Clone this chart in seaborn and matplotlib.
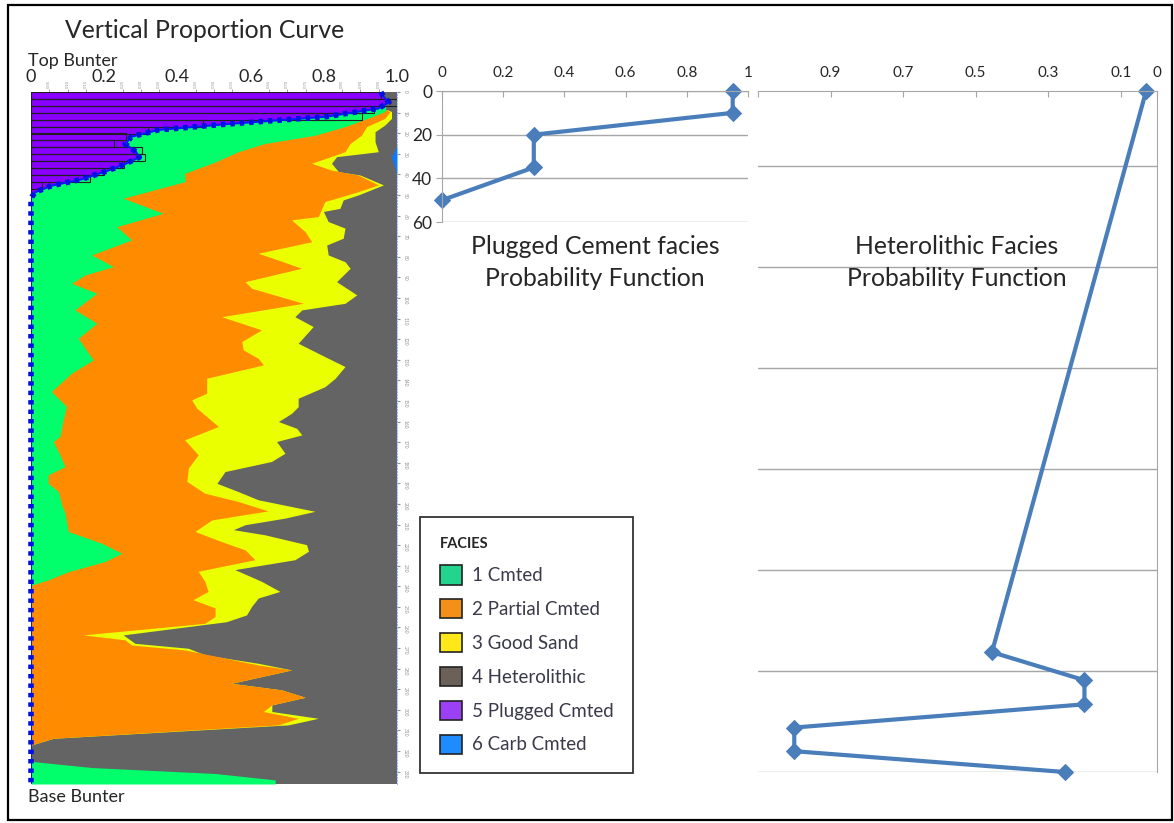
import matplotlib
matplotlib.use("Agg")
import matplotlib.pyplot as plt
import seaborn as sns
import numpy as np
from matplotlib.patches import Patch, Rectangle

# ---- left panel: cumulative facies edges (probability) at depth samples ----
purple_depth = [0, 2.3, 5, 8, 12, 15.5, 18.4, 21.7, 25.2, 29, 31.7, 35.4, 38.7, 42.4, 45.5, 48.7, 51.6, 336]
purple_edge = [0.956, 0.963, 0.978, 0.949, 0.806, 0.541, 0.348, 0.275, 0.257, 0.287, 0.296, 0.252,
               0.202, 0.138, 0.056, 0.011, 0, 0]

green_depth = [7, 9.5, 12.8, 16.8, 21, 25, 29, 34, 39.5, 43.5, 51.6, 58.9, 65.4, 71.8, 79.1, 84.8,
               88.8, 92.9, 97.7, 105.8, 112.3, 119.6, 130.1, 136.5, 145.4, 152.7, 159.2, 167.3, 169.7,
               176.2, 181.9, 185.9, 190, 194, 200.5, 204.5, 213.4, 219.1, 224, 228, 232.9, 236.9,
               239.4, 241, 325, 328, 330.9, 334, 336]
green_edge = [0.97, 0.967, 0.92, 0.858, 0.776, 0.639, 0.566, 0.503, 0.42, 0.421, 0.252, 0.361, 0.234,
              0.275, 0.166, 0.225, 0.148, 0.111, 0.18, 0.12, 0.18, 0.129, 0.17, 0.111, 0.056, 0.097,
              0.088, 0.079, 0.061, 0.079, 0.093, 0.047, 0.047, 0.075, 0.084, 0.093, 0.102, 0.193,
              0.248, 0.202, 0.102, 0.047, 0.002, 0, 0, 0.166, 0.503, 0.667, 0.667]

orange_depth = [8.7, 9.5, 12.8, 16.8, 21, 25, 29, 34.6, 37.9, 40.3, 45.1, 48.4, 53.2, 60.5, 62.1, 67.8,
                72.7, 78.3, 81.6, 85.6, 92.1, 95.3, 102.6, 109.1, 115.5, 121.2, 125.2, 129.3, 132.5,
                139, 146.3, 149.5, 153.5, 162.4, 168.9, 176.2, 182.6, 189.1, 194.8, 198.8, 203.4,
                207.8, 213.4, 218.3, 222.3, 227.1, 232.7, 237.6, 242.5, 246.5, 250.5, 254.7, 258,
                263.6, 266, 268.5, 270.9, 274.2, 278.2, 280.6, 287.1, 290.3, 293.9, 297.6, 300.8,
                304.1, 307.3, 313.8, 317, 319]
orange_edge = [0.97, 0.981, 0.967, 0.917, 0.903, 0.872, 0.858, 0.767, 0.821, 0.894, 0.949, 0.894,
               0.803, 0.785, 0.712, 0.749, 0.767, 0.621, 0.676, 0.739, 0.585, 0.603, 0.744, 0.521,
               0.63, 0.576, 0.58, 0.621, 0.635, 0.48, 0.48, 0.439, 0.453, 0.512, 0.42, 0.457, 0.43,
               0.426, 0.475, 0.566, 0.648, 0.494, 0.448, 0.521, 0.585, 0.612, 0.457, 0.475, 0.484,
               0.443, 0.503, 0.503, 0.475, 0.143, 0.257, 0.275, 0.421, 0.512, 0.621, 0.712, 0.548,
               0.685, 0.749, 0.658, 0.635, 0.73, 0.676, 0.061, 0.002, 0]

yellow_depth = [8.7, 9.5, 12.8, 16, 19.3, 24.2, 29, 31.4, 34.6, 38.7, 40.3, 45.1, 50, 52.4, 56.5, 58,
                62.9, 66.1, 71, 74.3, 79.1, 82.4, 85.6, 92.1, 98.5, 102.6, 105.8, 109.1, 113.9, 122,
                128.5, 133.3, 139, 143.1, 148.7, 152.8, 156, 160, 163.3, 166.5, 169.7, 175.4, 179.4,
                184.3, 190, 194, 198, 203.6, 206.9, 210.1, 212.5, 215, 219.8, 223, 227.1, 231.9,
                237.6, 242.5, 245.7, 249.7, 253.9, 257.2, 263.6, 267.7, 270.1, 273.3, 277.4, 280.6,
                287.1, 290.3, 293.9, 297.6, 300.8, 304.1, 307.3, 313.8, 317, 319]
yellow_edge = [0.975, 0.985, 0.985, 0.967, 0.94, 0.94, 0.949, 0.835, 0.821, 0.84, 0.899, 0.963, 0.894,
               0.853, 0.844, 0.799, 0.812, 0.858, 0.853, 0.808, 0.812, 0.858, 0.872, 0.835, 0.89,
               0.858, 0.74, 0.721, 0.771, 0.73, 0.803, 0.858, 0.831, 0.803, 0.73, 0.73, 0.712, 0.676,
               0.726, 0.74, 0.671, 0.694, 0.657, 0.53, 0.508, 0.566, 0.621, 0.776, 0.694, 0.585,
               0.553, 0.639, 0.753, 0.758, 0.721, 0.557, 0.63, 0.68, 0.621, 0.603, 0.589, 0.534,
               0.252, 0.284, 0.43, 0.475, 0.621, 0.712, 0.548, 0.685, 0.749, 0.658, 0.658, 0.785,
               0.703, 0.061, 0.002, 0]

carb_depth = [26, 31.4, 36, 40]
carb_edge = [1.0, 0.985, 0.993, 1.0]

# histogram of plugged cement (bin centres / values)
hist_depth = [1.7, 5.0, 8.4, 11.7, 15.1, 18.5, 21.8, 25.2, 28.5, 31.9, 35.2, 38.6, 41.9, 45.3, 48.6]
hist_value = [0.955, 1.0, 0.938, 0.904, 0.47, 0.32, 0.26, 0.228, 0.302, 0.311, 0.255, 0.2, 0.161, 0.031, 0.0]

# ---- Excel-style probability functions ----
plug_depth = [0, 10, 20, 35, 50]
plug_prob = [0.95, 0.95, 0.3, 0.3, 0]

het_depth = [13, 290.7, 304.6, 316.5, 328, 339.7, 350]
het_prob = [0.03, 0.455, 0.2, 0.2, 1.0, 1.0, 0.255]

facies_labels = ["1 Cmted", "2 Partial Cmted", "3 Good Sand", "4 Heterolithic", "5 Plugged Cmted", "6 Carb Cmted"]
legend_colors = ["#22d48e", "#f3901a", "#ffe81a", "#6b6159", "#9b40f5", "#1e8cff"]

c_purple, c_green, c_orange, c_yellow, c_gray, c_blue = "#8a00ff", "#00ff6a", "#ff8c00", "#eaff00", "#646464", "#0a78ff"
line_blue = "#4a7ebb"
grid_gray = "#a6a6a6"

sns.set_style("white")
plt.rcParams["font.family"] = ["Lato", "DejaVu Sans"]

fig = plt.figure(figsize=(11.74, 8.23), dpi=100)

# ---------------- left: vertical proportion curve ----------------
ax = fig.add_axes([31 / 1174, 1 - 784 / 823, 366 / 1174, 692 / 823])
ax.set_facecolor(c_gray)
ax.fill_betweenx(yellow_depth, 0, yellow_edge, color=c_yellow, lw=0)
ax.fill_betweenx(orange_depth, 0, orange_edge, color=c_orange, lw=0)
ax.fill_betweenx(green_depth, 0, green_edge, color=c_green, lw=0)
ax.fill_betweenx(carb_depth, carb_edge, 1, color=c_blue, lw=0)
ax.fill_betweenx(purple_depth, 0, purple_edge, color=c_purple, lw=0)
ax.barh(hist_depth, hist_value, height=3.35, fill=False, edgecolor="#202020", lw=0.8)
sns.lineplot(x=purple_edge, y=purple_depth, orient="y", sort=False, ax=ax, color="#0a1aff", lw=1.5)
ax.plot(purple_edge, purple_depth, color="#0010e0", lw=4, ls=(0, (0.8, 0.9)), clip_on=False,
        solid_capstyle="butt")
ax.set_xlim(0, 1)
ax.set_ylim(336, 0)
for side in ["left", "top", "bottom"]:
    ax.spines[side].set_visible(False)
ax.spines["right"].set_color("#9ab8ff")
ax.spines["right"].set_linestyle(":")
ax.xaxis.tick_top()
ax.set_xticks([0, 0.2, 0.4, 0.6, 0.8, 1.0])
ax.set_xticklabels(["0", "0.2", "0.4", "0.6", "0.8", "1.0"])
ax.set_xticks(np.arange(0.05, 1.0, 0.05), minor=True)
ax.xaxis.set_minor_formatter(matplotlib.ticker.FuncFormatter(lambda v, p: f"{v:.2f}"))
ax.tick_params(axis="x", which="major", labelsize=13, length=0, pad=5)
ax.tick_params(axis="x", which="minor", labelsize=3, length=2, pad=1, labelrotation=90,
               colors="#909090")
ax.yaxis.tick_right()
ax.set_yticks(range(0, 331, 10))
ax.tick_params(axis="y", labelsize=3.5, length=2, pad=2, labelrotation=270, colors="#909090")
ax.set_xlabel("")
ax.set_ylabel("")

fig.text(205 / 1174, 1 - 30 / 823, "Vertical Proportion Curve", ha="center", va="center", fontsize=17.8)
fig.text(28 / 1174, 1 - 61 / 823, "Top Bunter", ha="left", va="center", fontsize=13)
fig.text(28 / 1174, 1 - 797 / 823, "Base Bunter", ha="left", va="center", fontsize=13)

# ---------------- middle: plugged cement probability ----------------
ax2 = fig.add_axes([442 / 1174, 1 - 222 / 823, 306 / 1174, 131 / 823])
sns.lineplot(x=plug_prob, y=plug_depth, orient="y", sort=False, ax=ax2, color=line_blue, lw=3,
             marker="D", markersize=8, markeredgecolor=line_blue)
for ln in ax2.lines:
    ln.set_clip_on(False)
ax2.set_xlim(0, 1)
ax2.set_ylim(60, 0)
ax2.xaxis.tick_top()
ax2.set_xticks([0, 0.2, 0.4, 0.6, 0.8, 1.0])
ax2.set_xticklabels(["0", "0.2", "0.4", "0.6", "0.8", "1"])
ax2.set_yticks([0, 20, 40, 60])
ax2.grid(axis="y", color=grid_gray, lw=1)
ax2.grid(axis="x", visible=False)
for side in ["right", "bottom"]:
    ax2.spines[side].set_visible(False)
for side in ["top", "left"]:
    ax2.spines[side].set_color(grid_gray)
ax2.tick_params(axis="x", labelsize=11, direction="in", length=4, color=grid_gray, pad=8)
ax2.tick_params(axis="y", labelsize=12.5, direction="out", length=4, color=grid_gray, pad=3, left=True)
fig.text(595 / 1174, 1 - 246 / 823, "Plugged Cement facies", ha="center", va="center", fontsize=17.8)
fig.text(595 / 1174, 1 - 279 / 823, "Probability Function", ha="center", va="center", fontsize=17.8)

# ---------------- right: heterolithic probability ----------------
ax3 = fig.add_axes([758 / 1174, 1 - 772 / 823, 399 / 1174, 681 / 823])
sns.lineplot(x=het_prob, y=het_depth, orient="y", sort=False, ax=ax3, color=line_blue, lw=3,
             marker="D", markersize=8, markeredgecolor=line_blue)
for ln in ax3.lines:
    ln.set_clip_on(False)
ax3.set_xlim(1.1, 0)
ax3.set_ylim(350, 13)
ax3.xaxis.tick_top()
ax3.set_xticks([1.1, 0.9, 0.7, 0.5, 0.3, 0.1, 0])
ax3.set_xticklabels(["", "0.9", "0.7", "0.5", "0.3", "0.1", "0"])
ax3.set_yticks([50, 100, 150, 200, 250, 300, 350])
ax3.set_yticklabels([])
ax3.grid(axis="y", color=grid_gray, lw=1)
ax3.grid(axis="x", visible=False)
for side in ["left", "bottom"]:
    ax3.spines[side].set_visible(False)
for side in ["top", "right"]:
    ax3.spines[side].set_color(grid_gray)
ax3.tick_params(axis="x", labelsize=11, direction="in", length=4, color=grid_gray, pad=8)
ax3.tick_params(axis="y", length=0)
fig.text(957 / 1174, 1 - 246 / 823, "Heterolithic Facies", ha="center", va="center", fontsize=17.8)
fig.text(957 / 1174, 1 - 279 / 823, "Probability Function", ha="center", va="center", fontsize=17.8)

# ---------------- legend ----------------
handles = [Patch(facecolor=c, edgecolor="#222222", lw=1.2) for c in legend_colors]
leg = fig.legend(handles, facies_labels, title="FACIES", loc="upper left",
                 bbox_to_anchor=(420 / 1174, 1 - 517 / 823), borderaxespad=0, frameon=True,
                 fancybox=False, edgecolor="black", fontsize=13.5, handlelength=1.2,
                 handleheight=1.2, labelspacing=0.78, borderpad=1.05, handletextpad=0.5,
                 alignment="left", title_fontproperties={"weight": "bold", "size": 10.5})
leg.get_frame().set_linewidth(1.3)
for t in leg.get_texts():
    t.set_color("#3a3a4a")

# outer frame
fig.patches.append(Rectangle((8 / 1174, 3 / 823), 1164 / 1174, 815 / 823, transform=fig.transFigure,
                             fill=False, edgecolor="black", lw=1.6))

fig.savefig("out.png", dpi=100)
